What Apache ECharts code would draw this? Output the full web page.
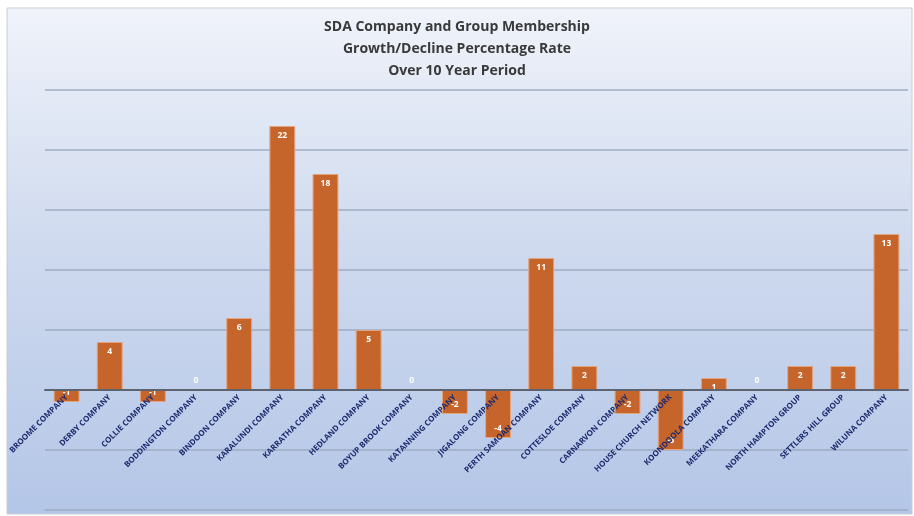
<!DOCTYPE html>
<html>
<head>
<meta charset="utf-8">
<script src="https://cdn.jsdelivr.net/npm/echarts@6/dist/echarts.min.js"></script>
<style>
html,body{margin:0;padding:0;background:#fff;}
#c{width:914px;height:516px;}
</style>
</head>
<body>
<div id="c"></div>
<script>
const titleLines = ['SDA Company and Group Membership', 'Growth/Decline Percentage Rate', 'Over 10 Year Period'];
const categories = ['BROOME COMPANY','DERBY COMPANY','COLLIE COMPANY','BODDINGTON COMPANY','BINDOON COMPANY','KARALUNDI COMPANY','KARRATHA COMPANY','HEDLAND COMPANY','BOYUP BROOK COMPANY','KATANNING COMPANY','JIGALONG COMPANY','PERTH SAMOAN COMPANY','COTTESLOE COMPANY','CARNARVON COMPANY','HOUSE CHURCH NETWORK','KOONDOOLA COMPANY','MEEKATHARA COMPANY','NORTH HAMPTON GROUP','SETTLERS HILL GROUP','WILUNA COMPANY'];
const values = [-1, 4, -1, 0, 6, 22, 18, 5, 0, -2, -4, 11, 2, -2, -5, 1, 0, 2, 2, 13];
const yMin = -10, yMax = 25, yStep = 5;

const chart = echarts.init(document.getElementById('c'), null, {renderer: 'canvas'});
const seriesData = values.map(v => ({
  value: v,
  label: {position: v < 0 ? 'insideBottom' : (v === 0 ? 'top' : 'insideTop'), distance: v === 0 ? 4 : 5}
}));
const gridTop = 90, gridBottomPx = 510;
const zeroOffset = -(gridBottomPx - gridTop) * (0 - yMin) / (yMax - yMin);
chart.setOption({
  animation: false,
  graphic: [
    {type: 'rect', z: -10, silent: true, shape: {x: 7, y: 8, width: 905, height: 506},
     style: {fill: new echarts.graphic.LinearGradient(0, 0, 0, 1, [
       {offset: 0, color: '#f0f3fa'}, {offset: 0.45, color: '#d0dbef'}, {offset: 1, color: '#b4c6e7'}]),
       stroke: '#c8ccd3', lineWidth: 1}}
  ],
  title: {
    text: titleLines.join('\n'),
    left: 'center', top: 11,
    textStyle: {fontFamily: 'Open Sans', fontWeight: 'bold', fontSize: 14, color: '#3a3a3a', lineHeight: 22}
  },
  grid: {left: 45, right: 6, top: gridTop, bottom: 516 - gridBottomPx, containLabel: false, outerBoundsMode: 'none'},
  xAxis: {
    type: 'category', data: categories, z: 5,
    axisLine: {onZero: false, lineStyle: {color: '#5d6470', width: 2}},
    offset: zeroOffset,
    axisTick: {show: false},
    axisLabel: {rotate: 45, interval: 0, margin: 6, fontFamily: 'Open Sans', fontWeight: 'bold', fontSize: 8, color: '#1c2a6e'}
  },
  yAxis: {
    type: 'value', min: yMin, max: yMax, interval: yStep,
    axisLabel: {show: false}, axisLine: {show: false}, axisTick: {show: false},
    splitLine: {lineStyle: {color: '#9eacc3', width: 1.5}}
  },
  series: [{
    type: 'bar', data: seriesData, barWidth: '60%',
    itemStyle: {color: '#c6652b', borderColor: '#e4a57e', borderWidth: 1},
    label: {show: true, color: '#ffffff', fontFamily: 'Open Sans', fontWeight: 'bold', fontSize: 8.5}
  }]
});
</script>
</body>
</html>
